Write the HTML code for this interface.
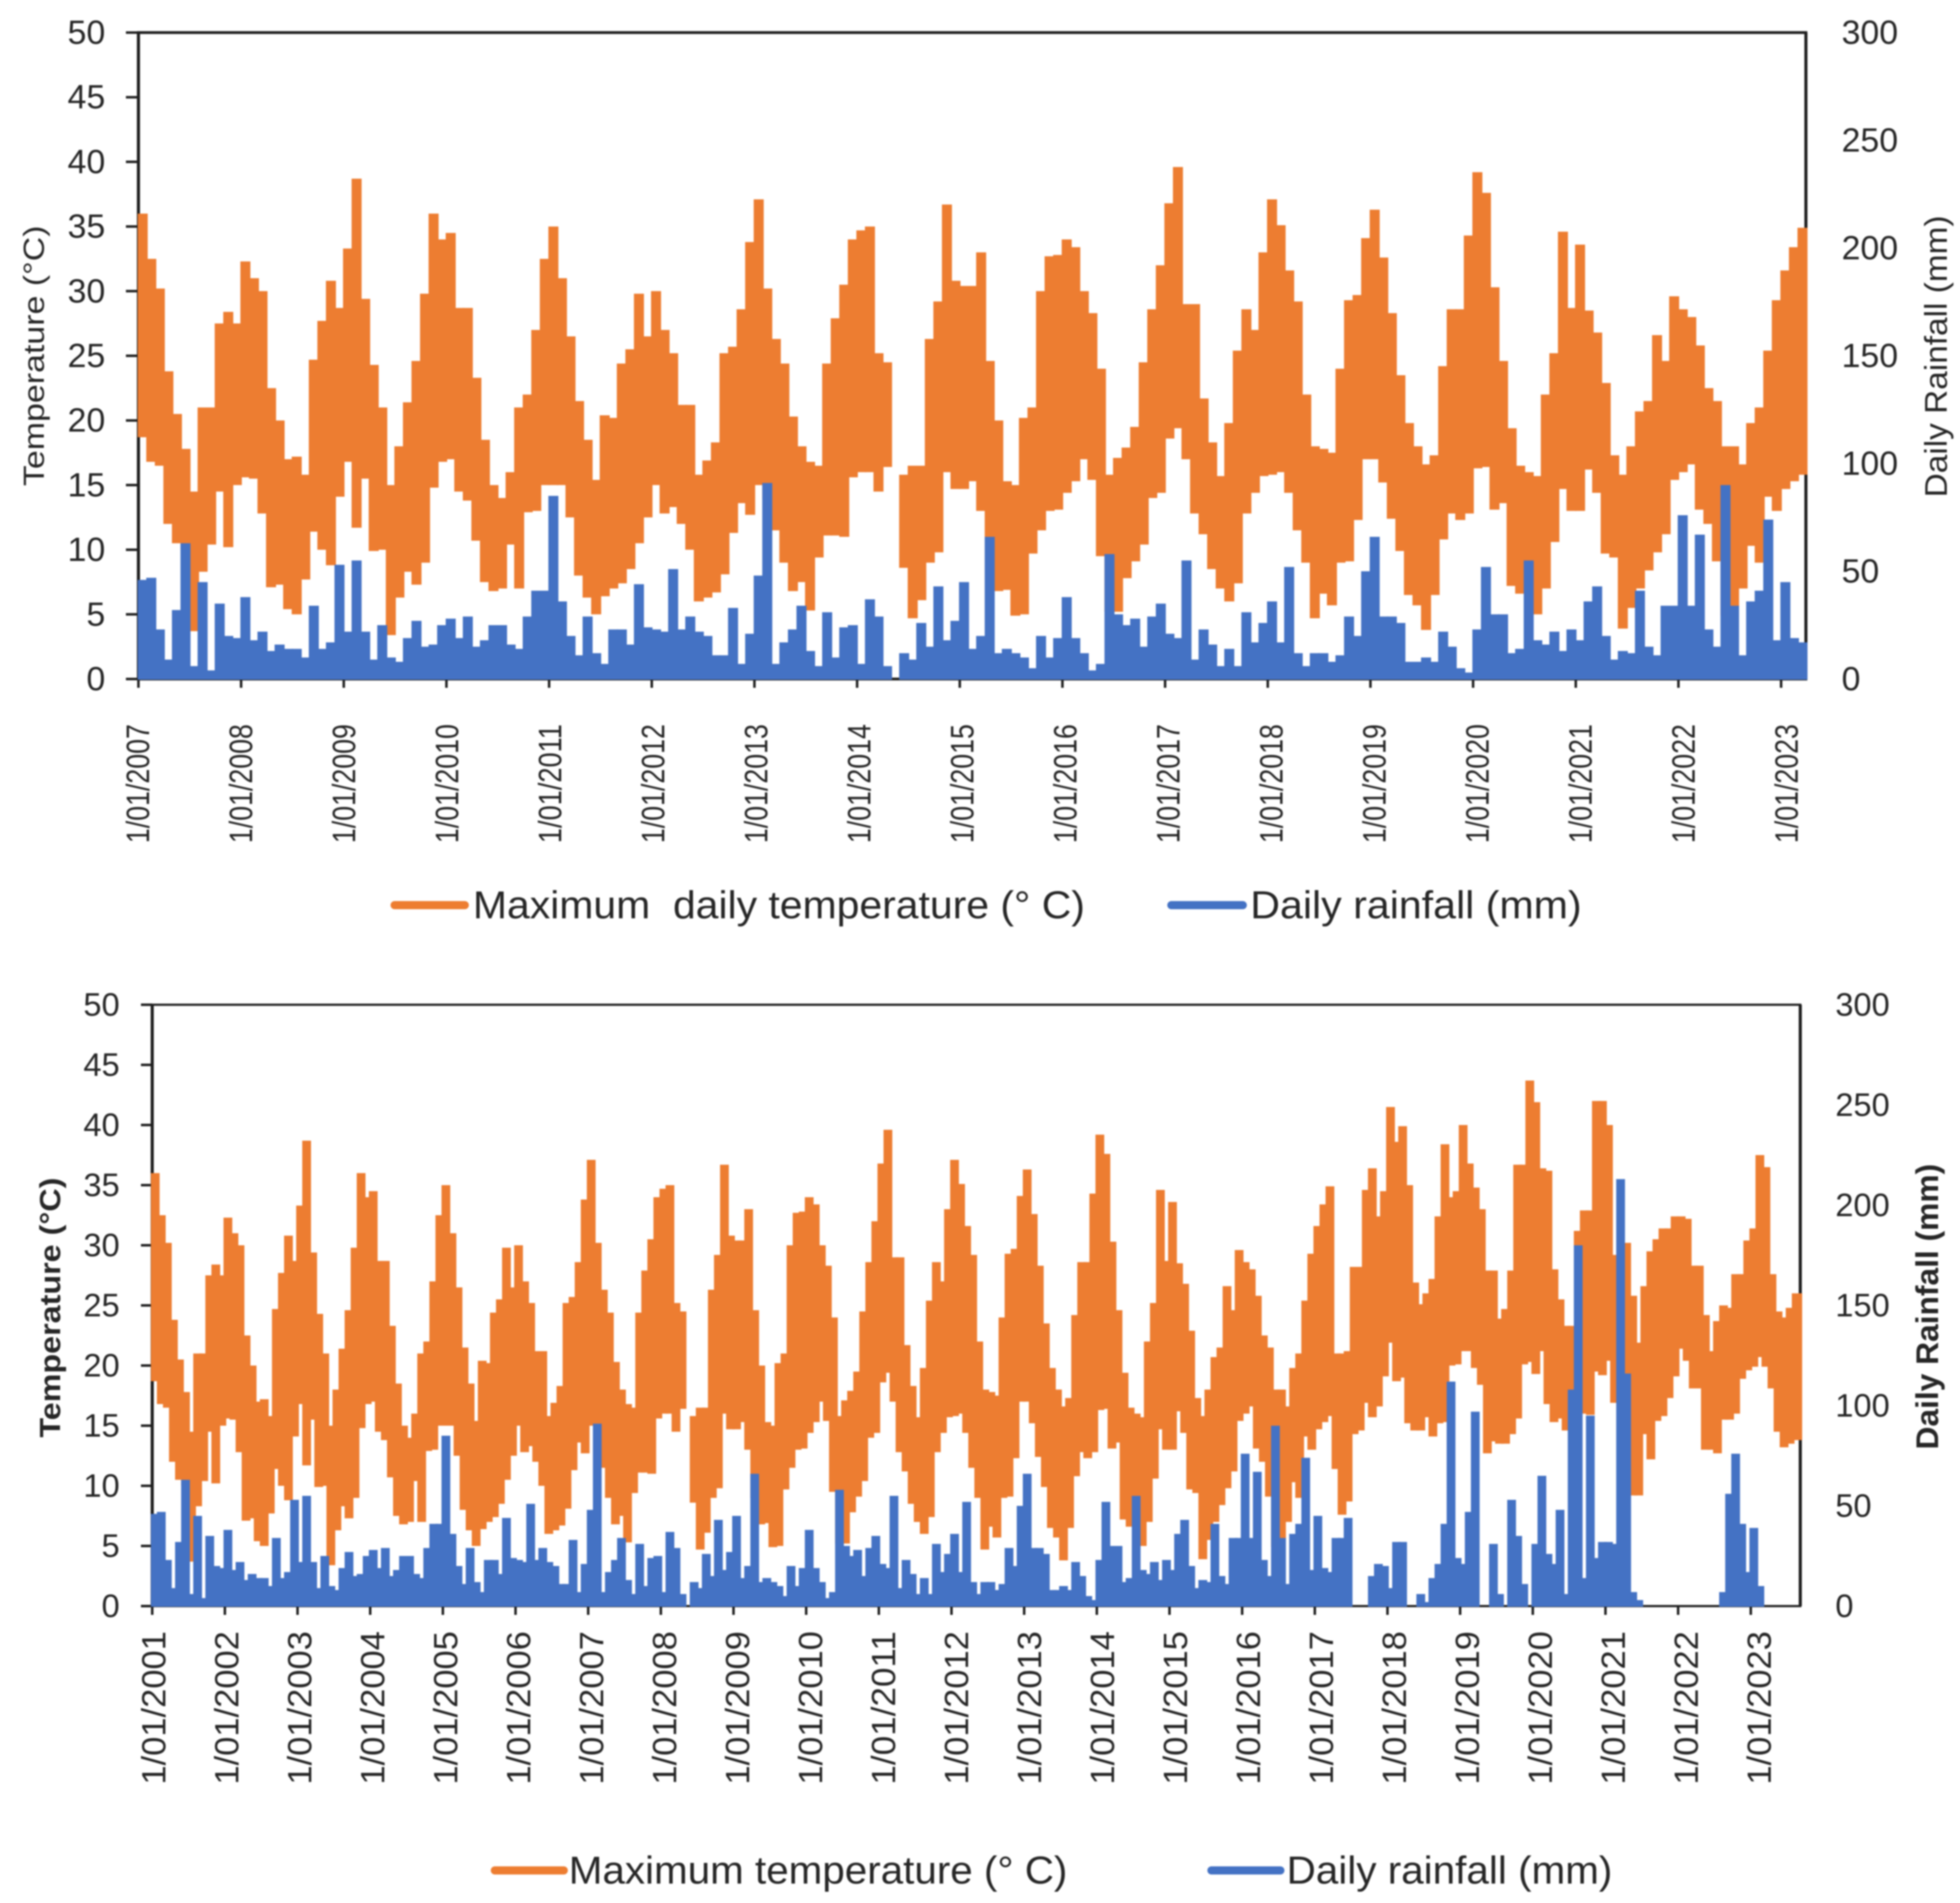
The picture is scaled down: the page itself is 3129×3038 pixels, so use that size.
<!DOCTYPE html>
<html lang="en">
<head>
<meta charset="utf-8">
<title>Daily maximum temperature and rainfall</title>
<style>
html,body{margin:0;padding:0;background:#fff;width:3129px;height:3038px;overflow:hidden}
svg{display:block;filter:blur(1.4px)}
text{font-family:"Liberation Sans",sans-serif;fill:#262626;white-space:pre}
</style>
</head>
<body>
<svg id="figure" xmlns="http://www.w3.org/2000/svg" width="3129" height="3038" viewBox="0 0 3129 3038"></svg>
<script>
// Monthly envelope of maximum temperature (deg C) and peak daily rainfall (mm), starting January.
const sharedTempHigh = [
36,32.5,30.2,23.8,20.5,17.8,14.5,21,21,27.5,28.4,27.5,
32.3,31,30,22.5,20,17,17.2,15.8,24.7,27.7,30.8,28.7,
33.3,38.7,29.4,24.3,21,15,18,21.4,24.6,29.8,36,34,
34.5,28.7,28.7,23.3,18.5,15,14,16,21,22,27,32.5,
35,31,26.5,21.5,18.5,15.4,20.4,20.2,24.4,25.5,29.8,26.5,
30,27,25.2,21.2,21.2,15.8,16.9,18.3,25.2,25.7,28.6,33.8,
37.1,30.2,26.3,24.4,20.3,18,16.8,16.5,24.4,27.9,30.5,34,
34.7,35,25.2,24.5,null,15.8,16.5,16.5,26.3,29.2,36.7,30.8,
30.4,30.4,33,24.6,20,15.3,15,20.2,21,30,32.7,32.8,
34,33.4,30,28.3,24,15.8,17.1,17.9,19.5,24.5,28.6,32,
36.8,39.6,29,29,21.7,18.3,15.7,19.8,25.4,28.6,27,33,
37.1,35.1,31.6,29.2,22,18,17.8,17.5,24,29.3,29.7,34.1,
36.3,32.6,28.3,23.5,19.8,18,16.6,17.3,24.2,28.6,28.6,34.3,
39.2,37.6,30.3,24.6,19.4,16.5,16,15.7,22,25.2,34.6,28.7,
33.6,28.5,26.8,22.9,17.3,15.8,18,20.7,21.5,26.6,24.6,29.6,
28.6,28,25.8,22.5,21.5,18,18,16.6,19.8,21,25.4,29.3,
31.6,33.4,34.9];
const sharedTempLow = [
18.7,16.8,16.5,12,10.5,10,3.7,8.3,10.4,14.5,10.2,15,
15.6,15.5,12.8,7.1,7.3,5.4,5,7.7,11.4,10,8.8,14.1,
16.8,11.7,15.5,9.9,10,3.4,6.3,8.3,7.3,9,14.8,16.8,
17,14.5,13.8,10.7,7.5,6.8,7,10.4,7,12.9,13,15,
15,15,12.5,8,6.3,5,6.4,7,7.4,8.5,10.5,12.5,
15,12.8,13.3,12,10,6,6.3,6.7,8.1,11.3,13.6,12.7,
15,13.9,11.5,9,6.8,7.5,5.3,9.4,11.1,11.1,11,15.6,
16,16,14.5,16.4,null,8.6,4.7,6.1,9,9.8,16,14.7,
14.7,15.3,13,9,6.8,6.9,4.9,5,9.7,11.5,13,13.1,
14.4,15.3,17,15.4,9.5,5.2,5.2,7.8,9.1,10.4,14,14.4,
18.6,19.4,17,12.8,11.2,8.5,7,6,7.4,12.8,14.4,15.7,
15.8,16,14.4,11.5,9,4.7,6.6,5.7,9,9.1,12.3,17,
17,15.2,12.4,9.9,6.5,5.7,3.8,6.5,10.8,12.8,12.3,12.8,
16.3,16.4,13.1,13.6,7.2,6.6,6.6,5,7,10.6,14.7,13,
13,16.2,14.4,9.7,9.4,3.9,5.5,7,8.4,9.8,11.2,15.4,
16,16.6,13.1,12,9.1,4.9,5.6,7,10.3,9,14.1,13,
14.7,15.3,15.8];
const sharedRain = [
46,47,23,9,32,63,6,45,4,35,20,19,
38,18,22,13,16,14,14,10,34,14,17,53,
22,55,22,9,25,10,8,19,27,15,16,25,
28,19,29,15,18,25,25,16,14,29,41,41,
85,36,20,11,29,12,7,23,23,16,44,24,
23,22,51,23,29,22,20,11,11,33,7,21,
48,91,7,17,23,34,13,6,31,10,24,25,
7,37,29,6,null,12,9,26,15,43,18,27,
45,14,20,66,12,14,12,10,5,20,10,19,
38,19,12,4,7,58,30,25,28,15,29,35,
21,19,55,9,23,16,6,14,6,31,17,26,
36,17,52,12,6,12,12,8,11,29,20,50,
66,29,29,26,8,8,10,8,22,15,5,3,
23,52,30,30,12,14,55,18,16,22,13,23,
18,36,43,20,9,13,12,41,15,11,34,34,
76,34,67,23,15,90,34,11,36,41,74,18,
45,19,17];
// Lower chart continues past March of its seventeenth year with its own readings.
const lowerTailHigh = [
21,21,21.2,28.2,28.2,34.6,36.4,32.4,34.5,
41.5,38.6,39.9,35,26.9,25.1,26,27.2,32.4,38.4,34,34.5,
40,36.8,34.8,33,27.9,27.9,23.9,24.7,27.9,36.7,36.7,43.7,
41.9,36.4,36.2,28,25.5,23.3,23.3,31.2,32.9,32.9,42,42,
40,29.2,29.2,30.2,25.8,21.9,26.6,29.5,30.5,31.4,31.4,32.4,
32.4,32.2,28.3,28.3,24.2,21.2,23.7,25,24.8,27.6,27.6,30.4,
31.4,37.5,36.5,27.6,24.5,24,24.8,26,26];
const lowerTailLow = [
11.4,7.6,8.7,14.3,14.6,16.9,15.7,16.6,19.1,
21.9,18.7,19,15.2,14.6,14.6,15.7,14.1,15.2,15.3,20,20.1,
21.2,21.2,19.8,18.4,12.7,13.7,13.5,13.5,14.3,15.6,20.1,20.3,
19.3,21.2,16.8,15.3,15.6,14.6,14.6,14.6,16,15.9,19.5,19.2,
20.4,16.9,16.9,15.7,9.2,9.2,14.3,12.2,15.4,15.8,17.3,19.1,
21.4,20.4,18.1,18.1,13,13,12.7,15.5,15.5,16,18.9,19.6,
19.9,20.7,19.9,18.1,14.5,13.2,13.5,13.8,13.8];
const lowerTailRain = [
34,34,44,0,0,0,15,21,20,
9,32,32,0,0,6,2,14,21,41,112,24,
21,47,97,0,0,31,6,0,53,35,11,0,
31,65,26,21,48,6,108,180,14,95,24,32,
32,31,213,116,7,3,0,0,0,0,0,0,
0,0,0,0,0,0,0,7,56,76,41,17,
39,10,0,0,0,0,0,0,0];
const upperYears = ["2007","2008","2009","2010","2011","2012","2013","2014","2015","2016","2017","2018","2019","2020","2021","2022","2023"];
const lowerYears = ["2001","2002","2003","2004","2005","2006","2007","2008","2009","2010","2011","2012","2013","2014","2015","2016","2017","2018","2019","2020","2021","2022","2023"];
const tempTicks = [0,5,10,15,20,25,30,35,40,45,50];
const rainTicks = [0,50,100,150,200,250,300];
const tempMax = 50;
const rainMax = 300;
const ORANGE = "#ED7D31";
const BLUE = "#4472C4";
const AXIS = "#1f1f1f";

const svg = document.getElementById("figure");
const NS = "http://www.w3.org/2000/svg";

function make(parent, tag, attrs, content) {
  const el = document.createElementNS(NS, tag);
  for (const k in attrs) el.setAttribute(k, attrs[k]);
  if (content !== undefined) el.textContent = content;
  parent.appendChild(el);
  return el;
}

function drawChart(c) {
  const tempY = v => c.bottom - (v / tempMax) * (c.bottom - c.top);
  const rainY = v => c.bottom - (v / rainMax) * (c.bottom - c.top);
  const monthX = i => c.left + ((i + 0.5) / 12) * c.yearW;
  const yearX = i => c.left + i * c.yearW;

  const chart = make(svg, "g", {});
  
  

  const clipId = c.key + "-clip";
  const defs = make(chart, "defs", {});
  const clip = make(defs, "clipPath", {id: clipId});
  make(clip, "rect", {x: c.left - 3, y: c.top, width: c.right - c.left + 6, height: c.bottom - c.top + 2});

  const frame = make(chart, "rect", {x: c.left, y: c.top, width: c.right - c.left, height: c.bottom - c.top, fill: "#fff", stroke: AXIS, "stroke-width": c.frameW});
  
  

  const leftSpine = make(chart, "line", {x1: c.left, x2: c.left, y1: c.top, y2: c.bottom, stroke: AXIS, "stroke-width": 5});
  
  

  const rightSpine = make(chart, "line", {x1: c.right, x2: c.right, y1: c.top, y2: c.bottom, stroke: AXIS, "stroke-width": 5});
  
  

  tempTicks.forEach(t => {
    const tick = make(chart, "line", {x1: c.left - c.tickLen, x2: c.left, y1: tempY(t), y2: tempY(t), stroke: AXIS, "stroke-width": 4});
    
    
    const label = make(chart, "text", {x: c.leftLabelX, y: tempY(t) + c.numHeight / 2, "text-anchor": "end", "font-size": c.numSize}, String(t));
    
    
  });

  rainTicks.forEach(t => {
    const label = make(chart, "text", {x: c.rightLabelX, y: rainY(t) + c.numHeight / 2, "font-size": c.numSize}, String(t));
    
    
  });

  c.years.forEach((yr, i) => {
    const tick = make(chart, "line", {x1: yearX(i), x2: yearX(i), y1: c.bottom, y2: c.bottom + 14, stroke: AXIS, "stroke-width": 4});
    
    
    const lx = c.dateLabelStart + i * c.dateLabelStep + c.dateSize * 0.35;
    const label = make(chart, "text", {
      x: lx, y: c.dateBottom, "font-size": c.dateSize,
      transform: "rotate(-90 " + lx + " " + c.dateBottom + ")",
      textLength: c.dateLen, lengthAdjust: "spacingAndGlyphs"
    }, "1/01/" + yr);
    
    
  });

  const tempSeries = make(chart, "g", {"clip-path": "url(#" + clipId + ")", stroke: ORANGE, "stroke-width": c.markW});
  
  
  c.high.forEach((h, i) => {
    if (h === null) return;
    const mark = make(tempSeries, "line", {x1: monthX(i), x2: monthX(i), y1: tempY(h), y2: tempY(c.low[i])});
    
    
  });

  const rainSeries = make(chart, "g", {"clip-path": "url(#" + clipId + ")", stroke: BLUE, "stroke-width": c.markW});
  
  
  c.rain.forEach((r, i) => {
    if (r === null || r === 0) return;
    const mark = make(rainSeries, "line", {x1: monthX(i), x2: monthX(i), y1: rainY(r), y2: c.bottom + 1});
    
    
  });

  const ly = make(chart, "text", {
    x: c.leftTitleX, y: c.leftTitleBottom, "font-size": c.titleSize, "font-weight": c.titleWeight,
    transform: "rotate(-90 " + c.leftTitleX + " " + c.leftTitleBottom + ")",
    textLength: c.leftTitleLen, lengthAdjust: "spacingAndGlyphs"
  }, "Temperature (°C)");
  
  

  const ry = make(chart, "text", {
    x: c.rightTitleX, y: c.rightTitleBottom, "font-size": c.rightTitleSize, "font-weight": c.titleWeight,
    transform: "rotate(-90 " + c.rightTitleX + " " + c.rightTitleBottom + ")",
    textLength: c.rightTitleLen, lengthAdjust: "spacingAndGlyphs"
  }, "Daily Rainfall (mm)");
  
  

  const legend = make(chart, "g", {});
  
  

  const swatchA = make(legend, "line", {x1: c.lg.a1, x2: c.lg.a2, y1: c.lg.y, y2: c.lg.y, stroke: ORANGE, "stroke-width": 13, "stroke-linecap": "round"});
  
  
  const textA = make(legend, "text", {x: c.lg.aText, y: c.lg.y + 21, "font-size": 62, textLength: c.lg.aLen, lengthAdjust: "spacingAndGlyphs"}, c.lg.aLabel);
  
  

  const swatchB = make(legend, "line", {x1: c.lg.b1, x2: c.lg.b2, y1: c.lg.y, y2: c.lg.y, stroke: BLUE, "stroke-width": 13, "stroke-linecap": "round"});
  
  
  const textB = make(legend, "text", {x: c.lg.bText, y: c.lg.y + 21, "font-size": 62, textLength: c.lg.bLen, lengthAdjust: "spacingAndGlyphs"}, "Daily rainfall (mm)");
  
  
}

drawChart({
  key: "upper", years: upperYears,
  high: sharedTempHigh, low: sharedTempLow, rain: sharedRain,
  left: 221, right: 2883, top: 52, bottom: 1084, yearW: 163.9,
  frameW: 4.5, tickLen: 20, markW: 16,
  numSize: 54, numHeight: 36, leftLabelX: 168, rightLabelX: 2940,
  dateLabelStart: 220, dateLabelStep: 164.5, dateBottom: 1346, dateLen: 190, dateSize: 52,
  titleSize: 46, rightTitleSize: 50, titleWeight: "normal",
  leftTitleX: 70, leftTitleBottom: 776, leftTitleLen: 416,
  rightTitleX: 3108, rightTitleBottom: 794, rightTitleLen: 450,
  lg: {y: 1445, a1: 630, a2: 742, aText: 755, aLen: 977, aLabel: "Maximum  daily temperature (° C)",
       b1: 1870, b2: 1984, bText: 1996, bLen: 529}
});

drawChart({
  key: "lower", years: lowerYears,
  high: sharedTempHigh.concat(lowerTailHigh), low: sharedTempLow.concat(lowerTailLow), rain: sharedRain.concat(lowerTailRain),
  left: 243, right: 2874, top: 1604, bottom: 2564, yearW: 116,
  frameW: 3.5, tickLen: 18, markW: 14,
  numSize: 52, numHeight: 35, leftLabelX: 191, rightLabelX: 2930,
  dateLabelStart: 245, dateLabelStep: 116.5, dateBottom: 2849, dateLen: 245, dateSize: 54,
  titleSize: 46, rightTitleSize: 50, titleWeight: "bold",
  leftTitleX: 96, leftTitleBottom: 2295, leftTitleLen: 415,
  rightTitleX: 3094, rightTitleBottom: 2314, rightTitleLen: 456,
  lg: {y: 2986, a1: 790, a2: 900, aText: 908, aLen: 796, aLabel: "Maximum temperature (° C)",
       b1: 1934, b2: 2044, bText: 2054, bLen: 520}
});
</script>
</body>
</html>
